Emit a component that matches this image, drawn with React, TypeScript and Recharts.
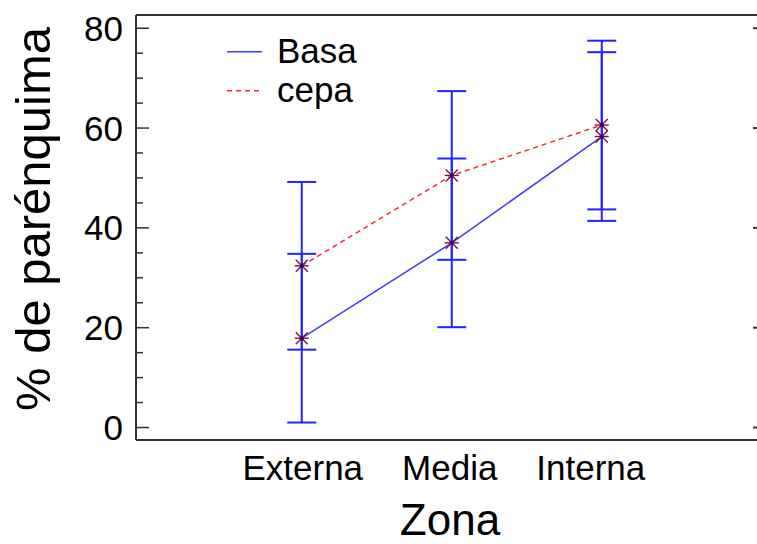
import { ComposedChart, ErrorBar, Legend, Line, ReferenceLine, XAxis, YAxis } from "recharts"

// Zonas del corte y medias (± intervalo) de % de parénquima
const zonas = ["Externa", "Media", "Interna"]
const zonaPos = [1, 2, 3]
const basa = [17.9, 37.0, 58.3]
const basaErr = [16.9, 16.9, 16.9]
const cepa = [32.4, 50.5, 60.6]
const cepaErr = [16.8, 16.9, 16.9]

const yTicks = [0, 5, 10, 15, 20, 25, 30, 35, 40, 45, 50, 55, 60, 65, 70, 75, 80]
const yLabels = [0, 20, 40, 60, 80]

const data = zonas.map((zona, i) => ({
  pos: zonaPos[i],
  zona,
  basa: basa[i],
  basaErr: basaErr[i],
  cepa: cepa[i],
  cepaErr: cepaErr[i],
}))

const W = 757
const H = 544
const MARGIN = { top: 15, right: 0, left: 0, bottom: 0 }
const Y_AXIS_W = 136
const X_AXIS_H = 104
const PLOT_RIGHT = W - MARGIN.right
const Y_DOMAIN: [number, number] = [-2.5, 82.65]
const X_DOMAIN: [number, number] = [-0.105, 4.035]
const TICK_GAP = 13
// the category labels are spread with even gaps, not strictly centred
const X_LABEL_DX = [1, -2, -11]

const FONT = '"Liberation Sans", Arial, sans-serif'
const FRAME = "#333"
const ERR_BLUE = "#2424ff"
const MARK = "#7a1448"

const lineStyle: Record<string, { stroke: string; dash?: string }> = {
  basa: { stroke: "#3b3bff" },
  cepa: { stroke: "#ff2a2a", dash: "5 4" },
}

function YTick({ x, y, payload }: any) {
  const axisX = x + TICK_GAP
  const major = yLabels.includes(payload.value)
  return (
    <g>
      <line x1={axisX} x2={axisX + (major ? 13 : 7)} y1={y} y2={y} stroke={FRAME} strokeWidth={1.5} />
      {major && <line x1={PLOT_RIGHT - 4} x2={PLOT_RIGHT} y1={y} y2={y} stroke={FRAME} strokeWidth={2} />}
      {major && (
        <text x={x} y={y + 12.5} textAnchor="end" fontSize={35} fontFamily={FONT} fill="#000">
          {payload.value}
        </text>
      )}
    </g>
  )
}

function XTick({ x, y, payload }: any) {
  const idx = zonaPos.indexOf(payload.value)
  return (
    <text x={x + (X_LABEL_DX[idx] ?? 0)} y={y + 39.5} textAnchor="middle" fontSize={35} fontFamily={FONT} fill="#000">
      {zonas[idx] ?? ""}
    </text>
  )
}

// asterisco de las medias
function Asterisk({ cx, cy }: any) {
  if (cx == null || cy == null) return null
  return (
    <g stroke={MARK} strokeWidth={1.4}>
      <line x1={cx - 7} x2={cx + 7} y1={cy} y2={cy} />
      <line x1={cx - 6} x2={cx + 6} y1={cy - 6} y2={cy + 6} />
      <line x1={cx - 6} x2={cx + 6} y1={cy + 6} y2={cy - 6} />
      <circle cx={cx} cy={cy} r={2} fill="#400030" stroke="none" />
    </g>
  )
}

function LegendBox({ payload }: any) {
  const items = payload ?? []
  return (
    <svg width={150} height={80} style={{ display: "block" }}>
      {items.map((entry: any, i: number) => {
        const st = lineStyle[entry.dataKey] ?? { stroke: entry.color }
        return (
          <g key={entry.value}>
            <line x1={0} x2={35} y1={19.7 + 39 * i} y2={19.7 + 39 * i} stroke={st.stroke} strokeWidth={1.5} strokeDasharray={st.dash} />
            <text x={50} y={31.3 + 38.7 * i} fontSize={35} fontFamily={FONT} fill="#000">
              {entry.value}
            </text>
          </g>
        )
      })}
    </svg>
  )
}

export default function App() {
  return (
    <div style={{ position: "absolute", left: 0, top: 0, background: "#fff" }}>
      <ComposedChart width={W} height={H} data={data} margin={MARGIN}>
        <XAxis
          dataKey="pos"
          type="number"
          domain={X_DOMAIN}
          allowDataOverflow
          ticks={zonaPos}
          height={X_AXIS_H}
          tickSize={0}
          tickMargin={0}
          tickLine={false}
          axisLine={{ stroke: FRAME, strokeWidth: 2 }}
          tick={<XTick />}
          label={{
            content: ({ viewBox }: any) => (
              <text
                x={viewBox.x + viewBox.width / 2 + 3.5}
                y={H - 9}
                textAnchor="middle"
                fontSize={44}
                fontFamily={FONT}
                fill="#000"
              >
                Zona
              </text>
            ),
          }}
        />
        <YAxis
          type="number"
          domain={Y_DOMAIN}
          allowDataOverflow
          ticks={yTicks}
          width={Y_AXIS_W}
          tickSize={0}
          tickMargin={TICK_GAP}
          tickLine={false}
          axisLine={{ stroke: FRAME, strokeWidth: 2 }}
          tick={<YTick />}
          label={{
            content: () => (
              <text
                x={50}
                y={219}
                transform="rotate(-90 50 219)"
                textAnchor="middle"
                fontSize={49}
                fontFamily={FONT}
                fill="#000"
              >
                % de parénquima
              </text>
            ),
          }}
        />
        <ReferenceLine y={Y_DOMAIN[1]} stroke={FRAME} strokeWidth={2} />
        <Legend
          content={<LegendBox />}
          layout="vertical"
          align="center"
          verticalAlign="middle"
          wrapperStyle={{ left: 227, top: 32, width: 150 }}
        />
        <Line
          dataKey="basa"
          name="Basa"
          stroke={lineStyle.basa.stroke}
          strokeWidth={1.5}
          dot={<Asterisk />}
          activeDot={false}
          isAnimationActive={false}
        >
          <ErrorBar dataKey="basaErr" direction="y" width={14.5} stroke={ERR_BLUE} strokeWidth={2} isAnimationActive={false} />
        </Line>
        <Line
          dataKey="cepa"
          name="cepa"
          stroke={lineStyle.cepa.stroke}
          strokeDasharray={lineStyle.cepa.dash}
          strokeWidth={1.5}
          dot={<Asterisk />}
          activeDot={false}
          isAnimationActive={false}
        >
          <ErrorBar dataKey="cepaErr" direction="y" width={14.5} stroke={ERR_BLUE} strokeWidth={2} isAnimationActive={false} />
        </Line>
      </ComposedChart>
    </div>
  )
}
